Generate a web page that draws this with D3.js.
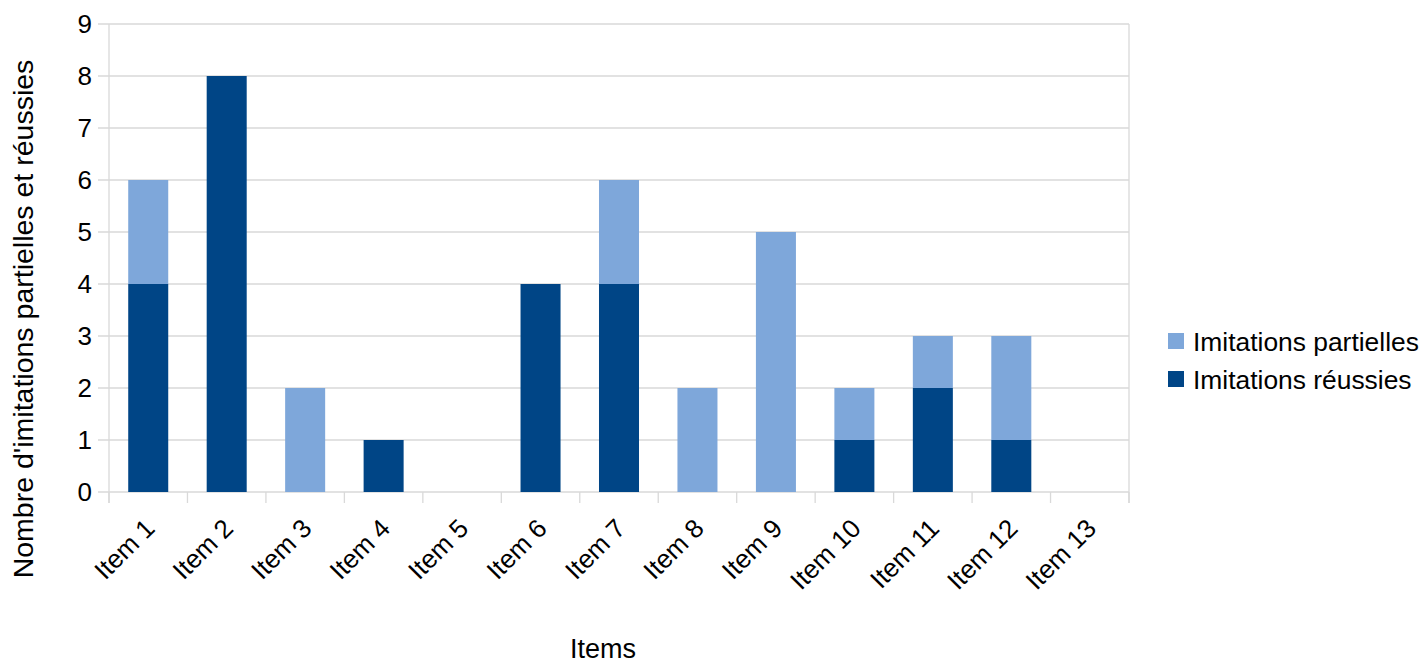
<!DOCTYPE html>
<html><head><meta charset="utf-8">
<script src="https://cdn.jsdelivr.net/npm/d3@7"></script>
<style>body{margin:0;background:#fff;font-family:"Liberation Sans",Arial,sans-serif}</style>
</head><body><svg id="c" width="1423" height="665"></svg>
<script>
const categories = ["Item 1","Item 2","Item 3","Item 4","Item 5","Item 6","Item 7","Item 8","Item 9","Item 10","Item 11","Item 12","Item 13"];
const reussies = [4,8,0,1,0,4,4,0,0,1,2,1,0];
const partielles = [2,0,2,0,0,0,2,2,5,1,1,2,0];
const yTicks = [0,1,2,3,4,5,6,7,8,9];
const seriesNames = ["Imitations partielles","Imitations réussies"];
const colors = {partielles:"#7ea7da", reussies:"#004586"};

const svg = d3.select("#c");
const L=109, R=1129, T=24, B=492;
const x = d3.scaleBand().domain(categories).range([L,R]).paddingInner(0.49).paddingOuter(0.245);
const xb = d3.scaleBand().domain(categories).range([L,R]);
const y = d3.scaleLinear().domain([0,9]).range([B,T]);
const font = "Liberation Sans, Arial, sans-serif";

// gridlines
svg.append("g").selectAll("line").data(yTicks).join("line")
  .attr("x1",L-11).attr("x2",R).attr("y1",d=>y(d)).attr("y2",d=>y(d))
  .attr("stroke","#d9d9d9").attr("stroke-width",1.3);
// vertical ticks at band boundaries
const bounds = categories.map(c=>xb(c)).concat([R]);
svg.append("g").selectAll("line").data(bounds).join("line")
  .attr("x1",d=>d).attr("x2",d=>d).attr("y1",B).attr("y2",B+11)
  .attr("stroke","#d9d9d9").attr("stroke-width",1.3);
svg.append("line").attr("x1",L).attr("x2",L).attr("y1",T).attr("y2",B+11).attr("stroke","#d9d9d9").attr("stroke-width",1.3);
svg.append("line").attr("x1",R).attr("x2",R).attr("y1",T).attr("y2",B+11).attr("stroke","#d9d9d9").attr("stroke-width",1.3);

// bars
const stack = categories.map((c,i)=>({c, r:reussies[i], p:partielles[i]}));
svg.append("g").selectAll("rect").data(stack.filter(d=>d.r>0)).join("rect")
  .attr("x",d=>x(d.c)).attr("width",x.bandwidth())
  .attr("y",d=>y(d.r)).attr("height",d=>y(0)-y(d.r)).attr("fill",colors.reussies);
svg.append("g").selectAll("rect").data(stack.filter(d=>d.p>0)).join("rect")
  .attr("x",d=>x(d.c)).attr("width",x.bandwidth())
  .attr("y",d=>y(d.r+d.p)).attr("height",d=>y(d.r)-y(d.r+d.p)).attr("fill",colors.partielles);

// y labels
svg.append("g").selectAll("text").data(yTicks).join("text")
  .attr("x",L-17).attr("y",d=>y(d)).attr("dy","0.36em").attr("text-anchor","end")
  .attr("font-family",font).attr("font-size",26).attr("fill","#000").text(d=>d);

// x labels
svg.append("g").selectAll("text").data(categories).join("text")
  .attr("text-anchor","end").attr("font-family",font).attr("font-size",26).attr("fill","#000")
  .attr("transform",d=>`translate(${xb(d)+xb.bandwidth()/2+8},${B+38}) rotate(-45)`)
  .text(d=>d);

// axis titles
svg.append("text").attr("x",603).attr("y",658).attr("text-anchor","middle")
  .attr("font-family",font).attr("font-size",27).text("Items");
svg.append("text").attr("transform","translate(33,319) rotate(-90)").attr("text-anchor","middle")
  .attr("font-family",font).attr("font-size",28.5).text("Nombre d'imitations partielles et réussies");

// legend
const lg = svg.append("g");
const lcols=[colors.partielles, colors.reussies];
seriesNames.forEach((n,i)=>{
  lg.append("rect").attr("x",1168).attr("y",333+i*38).attr("width",16).attr("height",16).attr("fill",lcols[i]);
  lg.append("text").attr("x",1193).attr("y",341+i*38).attr("dy","0.36em")
    .attr("font-family",font).attr("font-size",26.4).text(n);
});
</script></body></html>
